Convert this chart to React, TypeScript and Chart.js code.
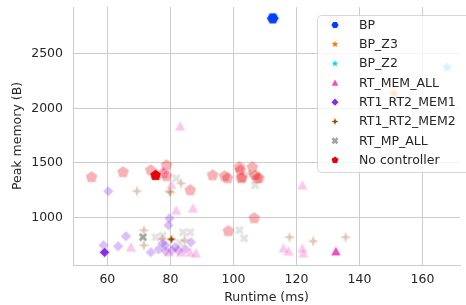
import React, { useEffect, useRef } from "react";
import { Chart, registerables } from "chart.js";

Chart.register(...registerables);

// ---- series meta ----
const seriesNames = ["BP", "BP_Z3", "BP_Z2", "RT_MEM_ALL", "RT1_RT2_MEM1", "RT1_RT2_MEM2", "RT_MP_ALL", "No controller"];
const seriesColors = ["#023eff", "#ff7c00", "#00d7ff", "#f14cc1", "#8b2be2", "#9f4800", "#a3a3a3", "#e8000b"];
const seriesShapes = ["hexagon", "star5", "star5", "triangle", "diamond", "star4", "xmark", "pentagon"];
const seriesSizes = [12.5, 13, 13, 11.5, 10.5, 11.5, 9.5, 12.5];

// ---- data (first entry of each series is the highlighted point) ----
const bpRuntime = [112.5];
const bpMemory = [2826];

const bpZ3Runtime = [150.9];
const bpZ3Memory = [2138];

const bpZ2Runtime = [167.8];
const bpZ2Memory = [2376];

const rtMemAllRuntime = [132.5, 83.1, 81.9, 87.2, 121.9, 67.5, 115.9, 117.5, 121.9, 122.2, 83.4, 86.3, 88.1, 77.8, 79.5, 80.3];
const rtMemAllMemory = [688, 1835, 1064, 1083, 1294, 725, 716, 688, 716, 670, 679, 679, 670, 1431, 680, 1300];

const rt1Rt2Mem1Runtime = [59.1, 60.3, 58.8, 63.4, 65.9, 73.8, 76.3, 78.4, 79.7, 79.4, 80.5, 82.5, 84.7, 86.5, 77.5, 78.5, 81.5];
const rt1Rt2Mem1Memory = [679, 1239, 743, 734, 826, 679, 706, 743, 991, 927, 697, 697, 706, 771, 761, 690, 725];

const rt1Rt2Mem2Runtime = [80.3, 69.4, 71.6, 71.6, 79.7, 83.4, 80.0, 117.8, 125.3, 135.6, 105.3, 84.5, 77.5];
const rt1Rt2Mem2Memory = [798, 1239, 881, 743, 1239, 1312, 1229, 817, 780, 817, 1404, 790, 800];

const rtMpAllRuntime = [71.3, 75.3, 81.9, 84.0, 86.3, 101.9, 103.4, 106.9, 77.5, 83.0];
const rtMpAllMemory = [817, 817, 1358, 862, 862, 881, 807, 1294, 830, 760];

const noCtrlRuntime = [75.3, 55.0, 65.0, 73.8, 78.8, 77.8, 78.8, 86.3, 93.4, 97.2, 98.1, 101.9, 102.8, 106.0, 107.5, 108.1, 106.6, 98.4, 102.2, 102.5, 106.9];
const noCtrlMemory = [1385, 1367, 1413, 1431, 1477, 1404, 1376, 1248, 1385, 1376, 1358, 1459, 1367, 1459, 1358, 1358, 991, 872, 1431, 1358, 1385];

const allRuntime = [bpRuntime, bpZ3Runtime, bpZ2Runtime, rtMemAllRuntime, rt1Rt2Mem1Runtime, rt1Rt2Mem2Runtime, rtMpAllRuntime, noCtrlRuntime];
const allMemory = [bpMemory, bpZ3Memory, bpZ2Memory, rtMemAllMemory, rt1Rt2Mem1Memory, rt1Rt2Mem2Memory, rtMpAllMemory, noCtrlMemory];

// ---- axes ----
const xMin = 49.1;
const xMax = 171.9;
const xTicks = [60, 80, 100, 120, 140, 160];
const yMin = 562;
const yMax = 2930;
const yTicks = [1000, 1500, 2000, 2500];
const xTitle = "Runtime (ms)";
const yTitle = "Peak memory (B)";

const FONT = "'DejaVu Sans', sans-serif";
const TEXT = "#262626";
const GRID = "#cccccc";

function tracePath(ctx: CanvasRenderingContext2D, shape: string, cx: number, cy: number, r: number) {
  ctx.beginPath();
  const poly = (pts: [number, number][]) => {
    pts.forEach(([px, py], i) => (i === 0 ? ctx.moveTo(cx + px, cy + py) : ctx.lineTo(cx + px, cy + py)));
    ctx.closePath();
  };
  const regular = (n: number, start: number, rr: number) => {
    const pts: [number, number][] = [];
    for (let i = 0; i < n; i++) {
      const a = start + (i * 2 * Math.PI) / n;
      pts.push([rr * Math.cos(a), rr * Math.sin(a)]);
    }
    poly(pts);
  };
  const star = (n: number, outer: number, inner: number) => {
    const pts: [number, number][] = [];
    for (let i = 0; i < n * 2; i++) {
      const a = -Math.PI / 2 + (i * Math.PI) / n;
      const rr = i % 2 === 0 ? outer : inner;
      pts.push([rr * Math.cos(a), rr * Math.sin(a)]);
    }
    poly(pts);
  };
  switch (shape) {
    case "pentagon":
      regular(5, -Math.PI / 2, r);
      break;
    case "hexagon":
      regular(6, 0, r);
      break;
    case "triangle": {
      const t = r * 0.92;
      poly([[0, -t], [t, t * 0.85], [-t, t * 0.85]]);
      break;
    }
    case "diamond":
      poly([[0, -r], [r, 0], [0, r], [-r, 0]]);
      break;
    case "star5":
      star(5, r, r * 0.42);
      break;
    case "star4":
      star(4, r, r * 0.38);
      break;
    case "xmark": {
      const a = r * 0.36;
      const base: [number, number][] = [
        [-a, -r], [a, -r], [a, -a], [r, -a], [r, a], [a, a], [a, r], [-a, r], [-a, a], [-r, a], [-r, -a], [-a, -a],
      ];
      const c = Math.cos(Math.PI / 4);
      poly(base.map(([x, y]) => [x * c - y * c, x * c + y * c] as [number, number]));
      break;
    }
    default:
      ctx.arc(cx, cy, r, 0, Math.PI * 2);
  }
}

function makeMarker(shape: string, color: string, alpha: number, size: number): HTMLCanvasElement {
  const dim = Math.ceil(size + 4);
  const c = document.createElement("canvas");
  c.width = dim;
  c.height = dim;
  const ctx = c.getContext("2d")!;
  ctx.globalAlpha = alpha;
  tracePath(ctx, shape, dim / 2, dim / 2, size / 2);
  ctx.fillStyle = color;
  ctx.fill();
  ctx.lineWidth = 0.75;
  ctx.strokeStyle = "#ffffff";
  ctx.stroke();
  return c;
}

const legendPlugin = {
  id: "customLegend",
  afterDraw(chart: any) {
    const ctx: CanvasRenderingContext2D = chart.ctx;
    ctx.save();
    const x = 317.5, y = 15.5, w = 160, h = 157, rad = 4;
    ctx.beginPath();
    ctx.moveTo(x + rad, y);
    ctx.lineTo(x + w - rad, y);
    ctx.arcTo(x + w, y, x + w, y + rad, rad);
    ctx.lineTo(x + w, y + h - rad);
    ctx.arcTo(x + w, y + h, x + w - rad, y + h, rad);
    ctx.lineTo(x + rad, y + h);
    ctx.arcTo(x, y + h, x, y + h - rad, rad);
    ctx.lineTo(x, y + rad);
    ctx.arcTo(x, y, x + rad, y, rad);
    ctx.closePath();
    ctx.fillStyle = "rgba(255,255,255,0.8)";
    ctx.fill();
    ctx.strokeStyle = "rgba(204,204,204,0.8)";
    ctx.lineWidth = 1;
    ctx.stroke();
    ctx.font = `12.5px ${FONT}`;
    ctx.fillStyle = TEXT;
    ctx.textBaseline = "middle";
    ctx.textAlign = "left";
    seriesNames.forEach((name, i) => {
      const yy = 25 + i * 19.3;
      ctx.save();
      tracePath(ctx, seriesShapes[i], 335, yy, 3.6);
      ctx.fillStyle = seriesColors[i];
      ctx.fill();
      ctx.restore();
      ctx.fillText(name, 359, yy + 0.5);
    });
    ctx.restore();
  },
};

export default function App() {
  const ref = useRef<HTMLCanvasElement>(null);

  useEffect(() => {
    if (!ref.current) return;
    const datasets: any[] = [];
    seriesNames.forEach((name, i) => {
      const xs = allRuntime[i];
      const ys = allMemory[i];
      const faint = xs.slice(1).map((v, k) => ({ x: v, y: ys[k + 1] }));
      if (faint.length) {
        datasets.push({
          label: name + " (runs)",
          data: faint,
          pointStyle: makeMarker(seriesShapes[i], seriesColors[i], 0.3, seriesSizes[i]),
          pointRadius: 5,
          order: 2,
        });
      }
      datasets.push({
        label: name,
        data: [{ x: xs[0], y: ys[0] }],
        pointStyle: makeMarker(seriesShapes[i], seriesColors[i], 1, seriesSizes[i]),
        pointRadius: 5,
        order: 1,
      });
    });

    const chart = new Chart(ref.current, {
      type: "scatter",
      data: { datasets },
      options: {
        animation: false,
        responsive: false,
        devicePixelRatio: 1,
        layout: { padding: { top: 7, right: 0, left: 0, bottom: 0 } },
        plugins: { legend: { display: false }, tooltip: { enabled: false } },
        scales: {
          x: {
            type: "linear",
            min: xMin,
            max: xMax,
            grid: { color: GRID, lineWidth: 1, drawTicks: false },
            border: { color: GRID, width: 1 },
            afterBuildTicks: (s: any) => {
              s.ticks = xTicks.map((v) => ({ value: v }));
            },
            ticks: {
              padding: 7,
              color: TEXT,
              font: { family: FONT, size: 12.5 },
              maxRotation: 0,
              autoSkip: false,
              callback: (v: any) => String(v),
            },
            title: {
              display: true,
              text: xTitle,
              color: TEXT,
              font: { family: FONT, size: 12.5 },
              padding: { top: 0, bottom: 0 },
            },
            afterFit: (s: any) => {
              s.height = 40;
              s.paddingLeft = 0;
              s.paddingRight = 0;
            },
          },
          y: {
            type: "linear",
            min: yMin,
            max: yMax,
            grid: { color: GRID, lineWidth: 1, drawTicks: false },
            border: { color: GRID, width: 1 },
            afterBuildTicks: (s: any) => {
              s.ticks = yTicks.map((v) => ({ value: v }));
            },
            ticks: {
              padding: 10,
              color: TEXT,
              font: { family: FONT, size: 12.5 },
              autoSkip: false,
              callback: (v: any) => String(v),
            },
            title: {
              display: true,
              text: yTitle,
              color: TEXT,
              font: { family: FONT, size: 12.5 },
              padding: { top: 10, bottom: 0 },
            },
            afterFit: (s: any) => {
              s.width = 73;
              s.paddingTop = 0;
              s.paddingBottom = 0;
            },
          },
        },
      },
      plugins: [legendPlugin],
    });
    return () => chart.destroy();
  }, []);

  return (
    <div style={{ position: "fixed", left: 0, top: 0, width: 466, height: 305, background: "#fff", overflow: "hidden" }}>
      <canvas ref={ref} width={466} height={305} style={{ display: "block" }} />
    </div>
  );
}
